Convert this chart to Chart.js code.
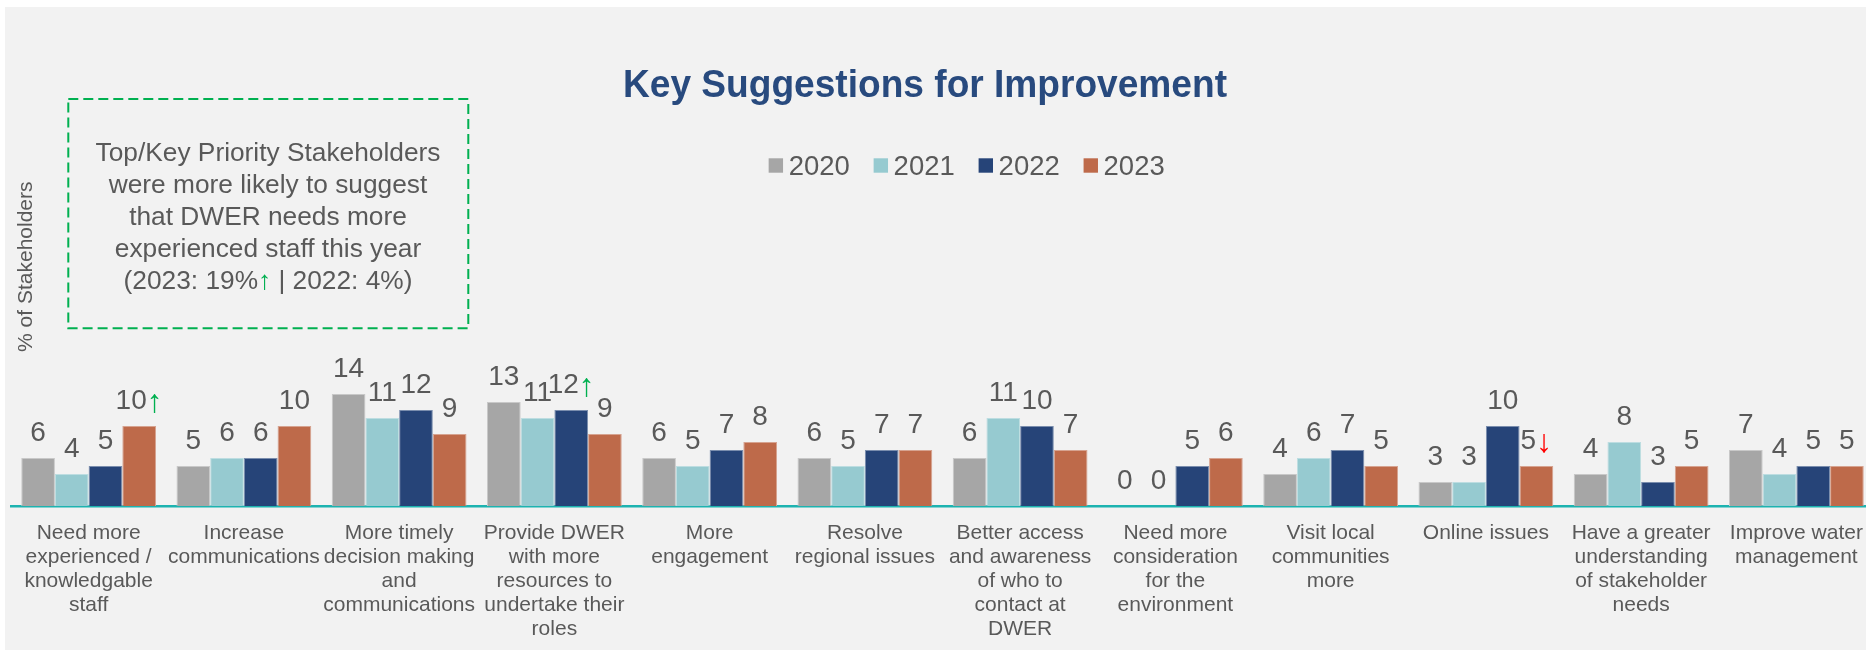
<!DOCTYPE html>
<html>
<head>
<meta charset="utf-8">
<title>Key Suggestions for Improvement</title>
<script src="https://cdn.jsdelivr.net/npm/chart.js@4.4.1/dist/chart.umd.min.js"></script>
<style>
  html, body { margin: 0; padding: 0; background: #ffffff; overflow: hidden; }
  #wrap { position: absolute; left: 0; top: 0; width: 1880px; height: 650px; }
</style>
</head>
<body>
<div id="wrap"><canvas id="c" width="1880" height="650"></canvas></div>
<script>
// ---- data ----
const categories = [
  ['Need more', 'experienced /', 'knowledgable', 'staff'],
  ['Increase', 'communications'],
  ['More timely', 'decision making', 'and', 'communications'],
  ['Provide DWER', 'with more', 'resources to', 'undertake their', 'roles'],
  ['More', 'engagement'],
  ['Resolve', 'regional issues'],
  ['Better access', 'and awareness', 'of who to', 'contact at', 'DWER'],
  ['Need more', 'consideration', 'for the', 'environment'],
  ['Visit local', 'communities', 'more'],
  ['Online issues'],
  ['Have a greater', 'understanding', 'of stakeholder', 'needs'],
  ['Improve water', 'management']
];
const seriesNames = ['2020', '2021', '2022', '2023'];
const values2020 = [6, 5, 14, 13, 6, 6, 6, 0, 4, 3, 4, 7];
const values2021 = [4, 6, 11, 11, 5, 5, 11, 0, 6, 3, 8, 4];
const values2022 = [5, 6, 12, 12, 7, 7, 10, 5, 7, 10, 3, 5];
const values2023 = [10, 10, 9, 9, 8, 7, 7, 6, 5, 5, 5, 5];
// significant change markers printed after a value label
const trend2020 = ['', '', '', '', '', '', '', '', '', '', '', ''];
const trend2021 = ['', '', '', '', '', '', '', '', '', '', '', ''];
const trend2022 = ['', '', '', 'up', '', '', '', '', '', '', '', ''];
const trend2023 = ['up', '', '', '', '', '', '', '', '', 'down', '', ''];

const chartTitle = 'Key Suggestions for Improvement';
const yAxisTitle = '% of Stakeholders';
const calloutLines = [
  'Top/Key Priority Stakeholders',
  'were more likely to suggest',
  'that DWER needs more',
  'experienced staff this year'
];
const calloutLastLine = ['(2023: 19%', '↑', ' | 2022: 4%)'];

// ---- styling ----
const FONT = '"Liberation Sans", Arial, sans-serif';
const TEXT = '#595959';
const UP = '#00b050';
const DOWN = '#ff0000';
const seriesColors = ['#a6a6a6', '#96cad0', '#264478', '#be6a4a'];
const seriesEdges = ['#c8c8c8', '#bddde1', '#7a8dad', '#d6a390'];

const allValues = [values2020, values2021, values2022, values2023];
const allTrends = [trend2020, trend2021, trend2022, trend2023];

// background panel, heading, legend, axis caption and callout box
const decor = {
  id: 'decor',
  beforeDraw(chart) {
    const ctx = chart.ctx;
    ctx.save();
    ctx.fillStyle = '#ffffff';
    ctx.fillRect(0, 0, chart.width, chart.height);
    ctx.fillStyle = '#f2f2f2';
    ctx.fillRect(5, 7, chart.width - 5, chart.height - 7);
    ctx.restore();
  },
  afterDraw(chart) {
    const ctx = chart.ctx;
    ctx.save();

    // heading, set to a fixed run length
    ctx.fillStyle = '#284a7e';
    ctx.font = 'bold 39.5px ' + FONT;
    ctx.textAlign = 'center';
    ctx.textBaseline = 'alphabetic';
    const tw = ctx.measureText(chartTitle).width;
    ctx.save();
    ctx.translate(925, 96.5);
    ctx.scale(604 / tw, 1);
    ctx.fillText(chartTitle, 0, 0);
    ctx.restore();

    // legend
    ctx.font = '27.5px ' + FONT;
    ctx.textAlign = 'left';
    const box = 14.4, gapBox = 5.6, gapItem = 23.8;
    const widths = seriesNames.map(n => ctx.measureText(n).width);
    const total = widths.reduce((a, w) => a + box + gapBox + w, 0) + gapItem * (seriesNames.length - 1);
    let lx = 966.7 - total / 2;
    seriesNames.forEach((n, i) => {
      ctx.fillStyle = seriesColors[i];
      ctx.fillRect(lx, 158.3, box, box);
      ctx.fillStyle = TEXT;
      ctx.fillText(n, lx + box + gapBox, 175);
      lx += box + gapBox + widths[i] + gapItem;
    });

    // vertical axis caption
    ctx.save();
    ctx.translate(32, 266.7);
    ctx.rotate(-Math.PI / 2);
    ctx.font = '21px ' + FONT;
    ctx.fillStyle = TEXT;
    ctx.textAlign = 'center';
    ctx.fillText(yAxisTitle, 0, 0);
    ctx.restore();

    // callout box
    ctx.strokeStyle = UP;
    ctx.lineWidth = 2;
    ctx.setLineDash([10, 5]);
    ctx.strokeRect(68.3, 99, 400, 229.3);
    ctx.setLineDash([]);
    ctx.font = '26.3px ' + FONT;
    ctx.fillStyle = TEXT;
    ctx.textAlign = 'center';
    const cy = 160.5;
    calloutLines.forEach((line, i) => ctx.fillText(line, 268, cy + i * 32));
    const segW = calloutLastLine.map(s => ctx.measureText(s).width);
    let sx = 268 - segW.reduce((a, b) => a + b, 0) / 2;
    ctx.textAlign = 'left';
    calloutLastLine.forEach((s, i) => {
      ctx.fillStyle = i === 1 ? UP : TEXT;
      ctx.fillText(s, sx, cy + 4 * 32);
      sx += segW[i];
    });

    ctx.restore();
  }
};

// value labels above every bar, with change arrows where flagged
const valueLabels = {
  id: 'valueLabels',
  afterDatasetsDraw(chart) {
    const ctx = chart.ctx;
    const numFont = '28px ' + FONT;
    const arrowFont = '32px ' + FONT;
    ctx.save();
    ctx.textAlign = 'left';
    ctx.textBaseline = 'alphabetic';
    chart.data.datasets.forEach((ds, di) => {
      const meta = chart.getDatasetMeta(di);
      meta.data.forEach((bar, i) => {
        const txt = String(ds.data[i]);
        const mark = ds.trend[i];
        const arrow = mark === 'up' ? '↑' : (mark === 'down' ? '↓' : '');
        ctx.font = numFont;
        const w1 = ctx.measureText(txt).width;
        ctx.font = arrowFont;
        const w2 = arrow ? ctx.measureText(arrow).width : 0;
        const x0 = bar.x - (w1 + w2) / 2;
        const y = bar.y - 17.5;
        ctx.font = numFont;
        ctx.fillStyle = TEXT;
        ctx.fillText(txt, x0, y);
        if (arrow) {
          ctx.font = arrowFont;
          ctx.fillStyle = mark === 'up' ? UP : DOWN;
          ctx.fillText(arrow, x0 + w1, y + 3);
        }
      });
    });
    ctx.restore();
  }
};

new Chart(document.getElementById('c'), {
  type: 'bar',
  data: {
    labels: categories,
    datasets: seriesNames.map((name, i) => ({
      label: name,
      data: allValues[i],
      trend: allTrends[i],
      backgroundColor: seriesColors[i],
      borderColor: seriesEdges[i],
      borderWidth: 1,
      categoryPercentage: 0.868,
      barPercentage: 1
    }))
  },
  options: {
    responsive: false,
    animation: false,
    events: [],
    layout: { padding: { left: 11, right: 6, top: 26, bottom: 0 } },
    plugins: {
      legend: { display: false },
      title: { display: false },
      tooltip: { enabled: false }
    },
    scales: {
      x: {
        grid: { display: false, drawTicks: false },
        border: { display: true, color: '#1db3b0', width: 2.5 },
        ticks: {
          autoSkip: false,
          maxRotation: 0,
          minRotation: 0,
          padding: 15,
          color: TEXT,
          font: { family: FONT, size: 21, lineHeight: 24 / 21 }
        },
        afterFit(scale) { scale.height = 144; }
      },
      y: { display: false, min: 0, max: 60 }
    }
  },
  plugins: [decor, valueLabels]
});
</script>
</body>
</html>
